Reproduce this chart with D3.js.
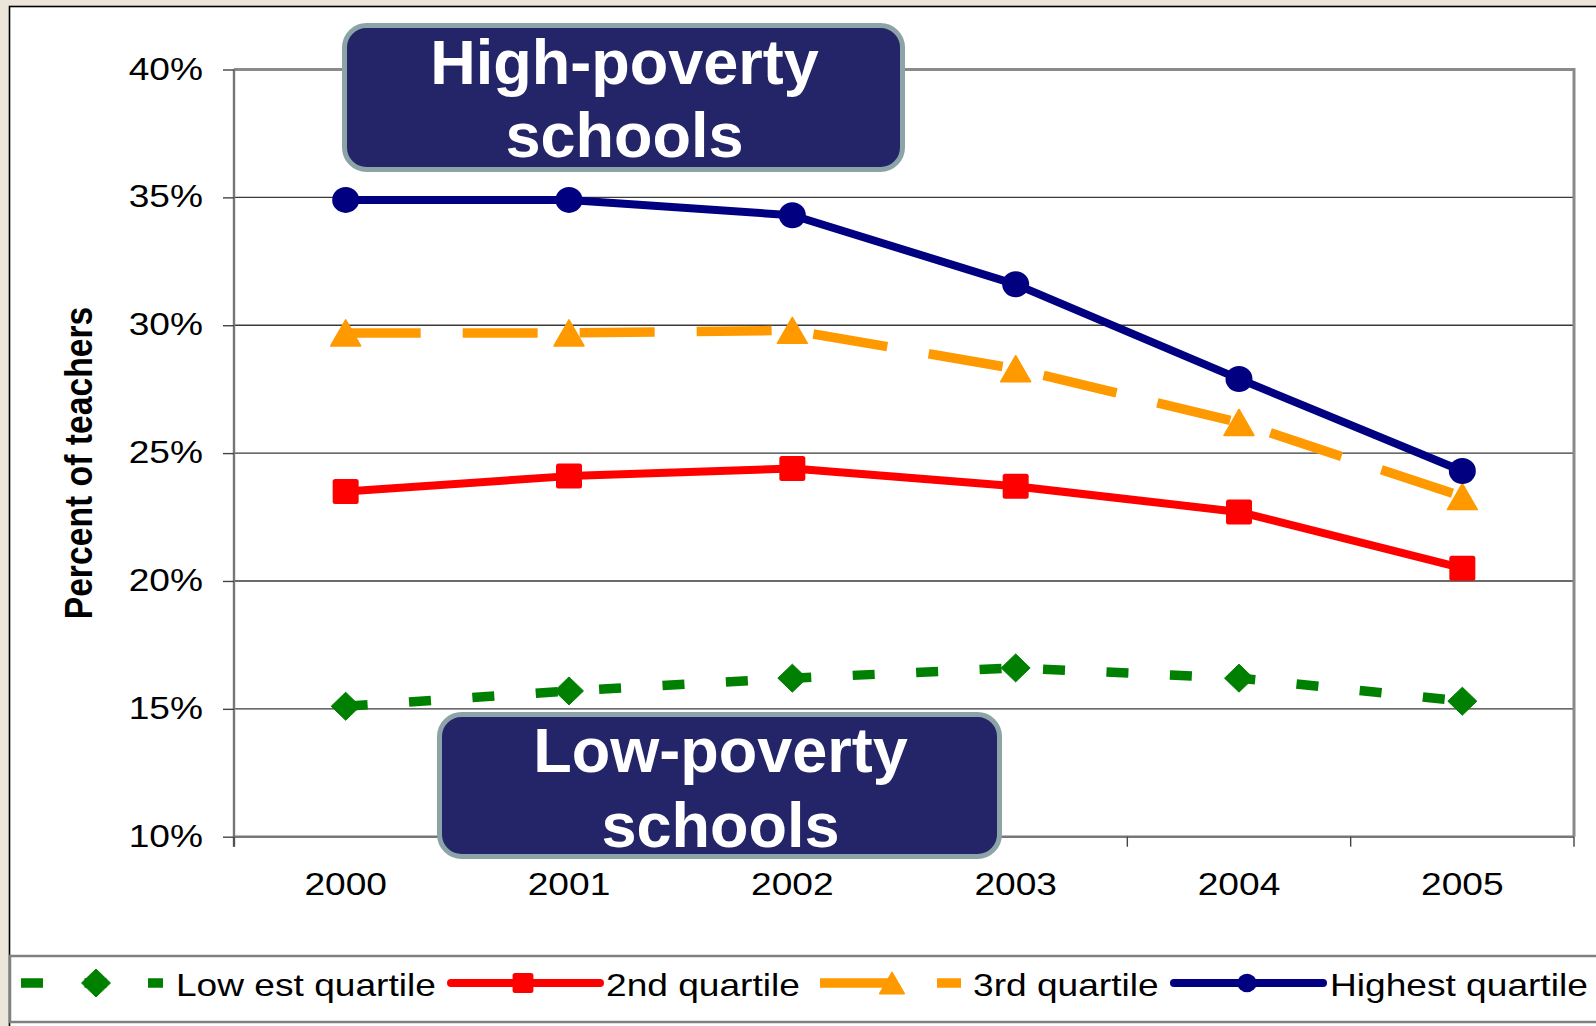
<!DOCTYPE html>
<html>
<head>
<meta charset="utf-8">
<script src="https://cdn.jsdelivr.net/npm/d3@7"></script>
<style>
  html, body { margin: 0; padding: 0; background: #ece6da; }
  svg { display: block; font-family: Arial, "Liberation Sans", sans-serif; }
</style>
</head>
<body>
<svg id="chart" width="1596" height="1026"></svg>
<script>
// ---- data ----
const years = ["2000", "2001", "2002", "2003", "2004", "2005"];
const lowestQuartile  = [15.1, 15.7, 16.2, 16.6, 16.2, 15.3];
const secondQuartile  = [23.5, 24.1, 24.4, 23.7, 22.7, 20.5];
const thirdQuartile   = [29.7, 29.7, 29.8, 28.3, 26.2, 23.3];
const highestQuartile = [34.9, 34.9, 34.3, 31.6, 27.9, 24.3];
const seriesNames = ["Low est quartile", "2nd quartile", "3rd quartile", "Highest quartile"];
const yTickValues = [10, 15, 20, 25, 30, 35, 40];
const yTitle = "Percent of teachers";
const highLabel = ["High-poverty", "schools"];
const lowLabel = ["Low-poverty", "schools"];

// ---- layout ----
const W = 1596, H = 1026;
const SX = 1.16;                       // horizontal text stretch
const plot = { left: 234, right: 1574, top: 69.5, bottom: 836.7 };

const svg = d3.select("#chart");

// white chart panel with black frame (runs off the right/bottom edge)
svg.append("rect")
  .attr("x", 9.5).attr("y", 6.5).attr("width", W + 20).attr("height", H + 20)
  .attr("fill", "#ffffff").attr("stroke", "#000").attr("stroke-width", 1.6);

const x = d3.scaleBand().domain(years).range([plot.left, plot.right]);
const y = d3.scaleLinear().domain([10, 40]).range([plot.bottom, plot.top]);
const cx = d => x(d) + x.bandwidth() / 2;

// horizontal gridlines
svg.append("g").selectAll("line")
  .data(yTickValues.filter(v => v > 10 && v < 40))
  .join("line")
  .attr("x1", plot.left).attr("x2", plot.right)
  .attr("y1", d => y(d)).attr("y2", d => y(d))
  .attr("stroke", "#3a3a3a").attr("stroke-width", 1.4);

// plot border: top and right in gray
svg.append("path")
  .attr("d", `M${plot.left},${plot.top}H${plot.right}V${plot.bottom}`)
  .attr("fill", "none").attr("stroke", "#8a8a8a").attr("stroke-width", 3);

// y axis
const yAxis = svg.append("g")
  .attr("transform", `translate(${plot.left},0)`)
  .call(d3.axisLeft(y).tickValues(yTickValues).tickFormat(d => d + "%").tickSize(11));
yAxis.select(".domain").attr("stroke", "#777").attr("stroke-width", 2.4)
  .attr("d", `M0,${plot.top}V${plot.bottom + 10}`);
yAxis.selectAll(".tick line").attr("stroke", "#444").attr("stroke-width", 1.4);
yAxis.selectAll(".tick text")
  .attr("x", -31 / SX).attr("dy", "0.30em")
  .attr("transform", `scale(${SX},1)`)
  .style("font-size", "32px").attr("fill", "#000")
  .style("font-family", "Arial, 'Liberation Sans', sans-serif");

// x axis: labels at category centres, tick marks between categories
const xAxis = svg.append("g")
  .attr("transform", `translate(0,${plot.bottom})`)
  .call(d3.axisBottom(x).tickSize(0));
xAxis.select(".domain").attr("stroke", "#777").attr("stroke-width", 2.4)
  .attr("d", `M${plot.left},0H${plot.right}`);
xAxis.selectAll(".tick text")
  .attr("y", 58.3).attr("dy", 0)
  .attr("transform", `scale(${SX},1)`)
  .style("font-size", "32px").attr("fill", "#000")
  .style("font-family", "Arial, 'Liberation Sans', sans-serif");
const boundaries = years.map(d => x(d)).concat([x.range()[1]]);
xAxis.append("g").selectAll("line")
  .data(boundaries)
  .join("line")
  .attr("x1", d => d).attr("x2", d => d)
  .attr("y1", 0).attr("y2", 10)
  .attr("stroke", "#444").attr("stroke-width", 1.4);

// y axis title
svg.append("text")
  .attr("transform", `translate(91.5,463) scale(${SX},1) rotate(-90)`)
  .attr("text-anchor", "middle")
  .style("font-size", "33.7px").style("font-weight", "bold")
  .text(yTitle);

// ---- marker shapes ----
function drawMarker(g, kind, px, py, s, color) {
  if (kind === "diamond") {
    const hw = 14.5 * s, hh = 14 * s;
    g.append("path")
      .attr("d", `M${px - hw},${py}L${px},${py - hh}L${px + hw},${py}L${px},${py + hh}Z`)
      .attr("fill", color).attr("stroke", color).attr("stroke-width", 1).attr("stroke-linejoin", "round");
  } else if (kind === "square") {
    const w = 26 * s, h = 25 * s;
    g.append("rect")
      .attr("x", px - w / 2).attr("y", py - h / 2).attr("width", w).attr("height", h)
      .attr("rx", 2.5).attr("fill", color);
  } else if (kind === "triangle") {
    const hw = 15 * s, hh = 13 * s;
    g.append("path")
      .attr("d", `M${px - hw},${py + hh}L${px},${py - hh}L${px + hw},${py + hh}Z`)
      .attr("fill", color).attr("stroke", color).attr("stroke-width", 1.5).attr("stroke-linejoin", "round");
  } else {
    g.append("ellipse")
      .attr("cx", px).attr("cy", py).attr("rx", 13.5 * s).attr("ry", 13 * s)
      .attr("fill", color);
  }
}

const series = [
  { name: seriesNames[0], values: lowestQuartile,  color: "#008000", width: 9.5, dash: "22,41.5", marker: "diamond",  legendScale: 1.0 },
  { name: seriesNames[1], values: secondQuartile,  color: "#ff0000", width: 8,   dash: null,      marker: "square",   legendScale: 0.8 },
  { name: seriesNames[2], values: thirdQuartile,   color: "#ff9900", width: 9.5, dash: "75,42",   marker: "triangle", legendScale: 0.82 },
  { name: seriesNames[3], values: highestQuartile, color: "#000080", width: 8,   dash: null,      marker: "circle",   legendScale: 0.72 }
];

const line = d3.line().x(d => cx(d.year)).y(d => y(d.value));

series.forEach(s => {
  const g = svg.append("g");
  const pts = years.map((yr, i) => ({ year: yr, value: s.values[i] }));
  g.append("path")
    .datum(pts)
    .attr("d", line)
    .attr("fill", "none")
    .attr("stroke", s.color)
    .attr("stroke-width", s.width)
    .attr("stroke-dasharray", s.dash)
    .attr("stroke-linecap", s.dash ? "butt" : "round")
    .attr("stroke-linejoin", "round");
  pts.forEach(p => drawMarker(g, s.marker, cx(p.year), y(p.value), 1, s.color));
});

// ---- annotation boxes ----
function noteBox(x0, y0, x1, y1, lines, baselines) {
  const g = svg.append("g");
  g.append("rect")
    .attr("x", x0 + 2.5).attr("y", y0 + 2.5)
    .attr("width", x1 - x0 - 5).attr("height", y1 - y0 - 5)
    .attr("rx", 22).attr("fill", "#242469")
    .attr("stroke", "#8ca4a8").attr("stroke-width", 5);
  lines.forEach((t, i) => {
    g.append("text")
      .attr("x", (x0 + x1) / 2 + 1).attr("y", baselines[i])
      .attr("text-anchor", "middle")
      .style("font-size", "63px").style("font-weight", "bold")
      .attr("fill", "#ffffff")
      .text(t);
  });
}
noteBox(342, 23, 905, 172, highLabel, [84, 157]);
noteBox(437, 712, 1002, 859, lowLabel, [772, 847]);

// ---- legend ----
svg.append("rect")
  .attr("x", 10).attr("y", 956).attr("width", W + 20).attr("height", 66)
  .attr("fill", "none").attr("stroke", "#808080").attr("stroke-width", 2.5);

const legendLayout = [
  { x0: 21,   x1: 163,  mx: 96,   tx: 176 },
  { x0: 451,  x1: 600,  mx: 523,  tx: 606 },
  { x0: 820,  x1: 961,  mx: 892,  tx: 973 },
  { x0: 1174, x1: 1323, mx: 1247, tx: 1330 }
];
const legendY = 983;
series.forEach((s, i) => {
  const L = legendLayout[i];
  const g = svg.append("g");
  g.append("line")
    .attr("x1", L.x0).attr("x2", L.x1).attr("y1", legendY).attr("y2", legendY)
    .attr("stroke", s.color).attr("stroke-width", s.width)
    .attr("stroke-dasharray", s.dash)
    .attr("stroke-linecap", s.dash ? "butt" : "round");
  drawMarker(g, s.marker, L.mx, legendY, s.legendScale, s.color);
  g.append("text")
    .attr("x", L.tx / SX).attr("y", 996)
    .attr("transform", `scale(${SX},1)`)
    .style("font-size", "32px")
    .text(s.name);
});
</script>
</body>
</html>
